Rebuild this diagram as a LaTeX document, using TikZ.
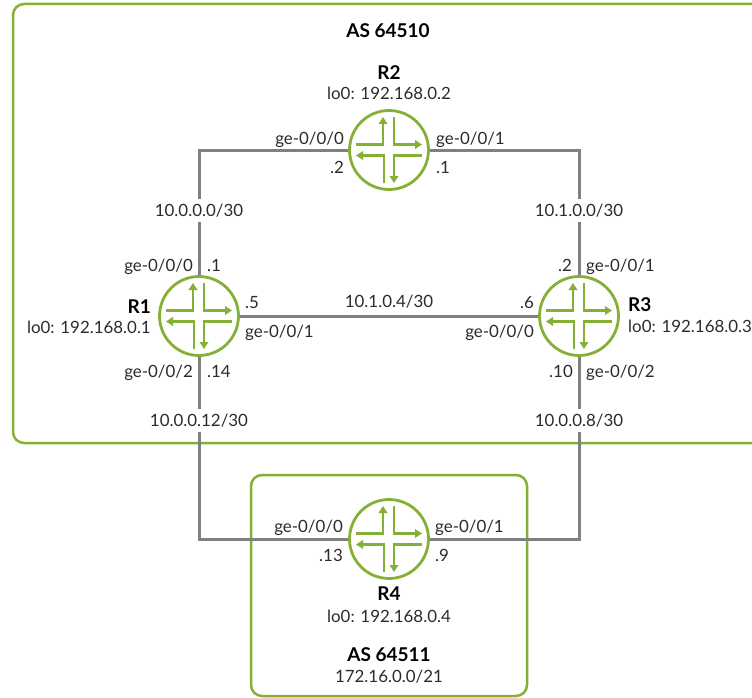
\documentclass[tikz,border=0pt]{standalone}
\usepackage{fontspec}
\setmainfont{Lato}
\usetikzlibrary{arrows.meta,calc}
\definecolor{jgreen}{HTML}{84B135}
\definecolor{jgrey}{HTML}{808080}
\definecolor{jtext}{HTML}{2B2B2B}
\tikzset{
  x=1pt,y=-1pt,
  asbox/.style={draw=jgreen,line width=2.5pt,rounded corners=11pt,fill=none,inner sep=0pt,outer sep=0pt,anchor=north west},
  link/.style={draw=jgrey,line width=3pt},
  router/.style={circle,draw=jgreen,line width=2.8pt,fill=white,minimum size=79pt,inner sep=0pt},
  iconarrow/.style={draw=jgreen,line width=2.5pt,-{Triangle[length=7pt,width=8.5pt]}},
  lab/.style={font=\fontsize{16.9pt}{18pt}\selectfont,text=jtext,inner sep=0pt,text height=14pt,text depth=1pt},
  rname/.style={lab,font=\fontsize{19pt}{20pt}\selectfont\bfseries,text=black},
  net/.style={lab,fill=white,inner xsep=2pt,inner ysep=4pt},
}
\newcommand{\routericon}[1]{%
  \begin{scope}[shift={(#1)}]
    \draw[iconarrow] (-33,-5.5) -- (-6,-5.5) -- (-6,-33);
    \draw[iconarrow] (5,-33) -- (5,-5.5) -- (33,-5.5);
    \draw[iconarrow] (-5,33) -- (-5,5.5) -- (-33,5.5);
    \draw[iconarrow] (33,5.5) -- (5,5.5) -- (5,33);
  \end{scope}}
\begin{document}
\begin{tikzpicture}
\useasboundingbox (0,0) rectangle (752,698);
\clip (0,0) rectangle (752,698);
% AS areas
\node[asbox,minimum width=780pt,minimum height=439pt] (as1) at (13,4) {};
\node[asbox,minimum width=276pt,minimum height=221pt] (as2) at (251,475) {};
% routers
\node[router] (R1) at (199,316) {};
\node[router] (R2) at (389,150) {};
\node[router] (R3) at (579,316) {};
\node[router] (R4) at (389,539) {};
% links
\draw[link] (R1) |- (R2);
\draw[link] (R3) |- (R2);
\draw[link] (R1) -- (R3);
\draw[link] (R1) |- (R4);
\draw[link] (R3) |- (R4);
\routericon{R1}
\routericon{R2}
\routericon{R3}
\routericon{R4}
% network labels
\node[net] (n1) at (199,210) {10.0.0.0/30};
\node[net] (n2) at (579,210) {10.1.0.0/30};
\node[lab] (n3) at (389,301) {10.1.0.4/30};
\node[net] (n4) at (199,420) {10.0.0.12/30};
\node[net] (n5) at (579,420) {10.0.0.8/30};
% AS labels
\node[rname] (t1) at (388,31) {AS 64510};
\node[rname] (t2) at (389,655) {AS 64511};
\node[lab] (t3) at (389,676) {172.16.0.0/21};
% R2
\node[rname] (r2n) at (389,73) {R2};
\node[lab] (r2l) at (389,93) {lo0: 192.168.0.2};
\node[lab,anchor=east] (a1) at (344,138) {ge-0/0/0};
\node[lab,anchor=east] (a2) at (344,167) {.2};
\node[lab,anchor=west] (a3) at (436,138) {ge-0/0/1};
\node[lab,anchor=west] (a4) at (436,167) {.1};
% R1
\node[rname,anchor=east] (r1n) at (151,307) {R1};
\node[lab,anchor=east] (r1l) at (151,327) {lo0: 192.168.0.1};
\node[lab,anchor=east] (b1) at (193,265) {ge-0/0/0};
\node[lab,anchor=west] (b2) at (207,265) {.1};
\node[lab,anchor=west] (b3) at (245,302) {.5};
\node[lab,anchor=west] (b4) at (245,331) {ge-0/0/1};
\node[lab,anchor=east] (b5) at (193,371) {ge-0/0/2};
\node[lab,anchor=west] (b6) at (207,371) {.14};
% R3
\node[rname,anchor=west] (r3n) at (628,305) {R3};
\node[lab,anchor=west] (r3l) at (628,326) {lo0: 192.168.0.3};
\node[lab,anchor=east] (c1) at (534,302) {.6};
\node[lab,anchor=east] (c2) at (534,331) {ge-0/0/0};
\node[lab,anchor=east] (c3) at (572,265) {.2};
\node[lab,anchor=west] (c4) at (586,265) {ge-0/0/1};
\node[lab,anchor=east] (c5) at (573,371) {.10};
\node[lab,anchor=west] (c6) at (586,371) {ge-0/0/2};
% R4
\node[rname] (r4n) at (389,594) {R4};
\node[lab] (r4l) at (389,616) {lo0: 192.168.0.4};
\node[lab,anchor=east] (d1) at (343,526) {ge-0/0/0};
\node[lab,anchor=east] (d2) at (343,555) {.13};
\node[lab,anchor=west] (d3) at (435,526) {ge-0/0/1};
\node[lab,anchor=west] (d4) at (435,555) {.9};
\end{tikzpicture}
\end{document}
